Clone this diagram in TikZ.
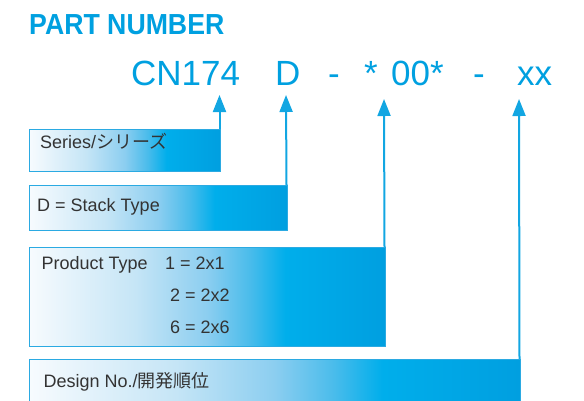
\documentclass[tikz,border=0pt]{standalone}
\usepackage{fontspec}
\setmainfont{Liberation Sans}
\newfontfamily\jpfont{Noto Sans CJK JP}
\usepackage{graphicx}
\usetikzlibrary{arrows.meta}
\definecolor{pnblue}{HTML}{00A0E0}
\definecolor{arrowblue}{HTML}{12A6E2}
\definecolor{boxline}{HTML}{2BAAE2}
\definecolor{txtgray}{HTML}{333333}
\definecolor{g0}{HTML}{F7FBFE}
\definecolor{g1}{HTML}{C5E5F6}
\definecolor{g2}{HTML}{8CCEF0}
\definecolor{g3}{HTML}{4ABCEB}
\definecolor{g4}{HTML}{00AEEB}
\definecolor{g5}{HTML}{009FE0}
\pgfdeclarehorizontalshading{partshade}{100bp}{color(0bp)=(g0); color(25bp)=(g0); color(40bp)=(g1); color(50bp)=(g2); color(56bp)=(g3); color(61bp)=(g4); color(75bp)=(g5); color(100bp)=(g5)}
\begin{document}
\begin{tikzpicture}[x=1pt,y=-1pt,
  box/.style={draw=boxline, line width=1pt, shade, shading=partshade, anchor=north west, inner sep=0pt, outer sep=0pt},
  lbl/.style={anchor=base west, inner sep=0pt, text=txtgray, font=\fontsize{18}{20}\selectfont},
  code/.style={anchor=base west, inner sep=0pt, text=pnblue, font=\fontsize{35}{40}\selectfont},
  ptr/.style={draw=arrowblue, line width=2pt, -{Triangle[width=13pt,length=17pt]}}]
\useasboundingbox (0,0) rectangle (584,400);
% title
\node[anchor=base west, inner sep=0pt, text=pnblue, font=\bfseries\fontsize{29}{32}\selectfont] (title) at (29,34.3) {\scalebox{0.92}[1]{PART NUMBER}};
% part code
\node[code] (cn) at (131,85) {CN174};
\node[code] (d) at (275,85) {D};
\node[code] (h1) at (328,85) {-};
\node[code] (st) at (364,85) {*};
\node[code] (oo) at (391,85) {00*};
\node[code] (h2) at (473,85) {-};
\node[code] (xx) at (517,85) {xx};
% boxes
\node[box, minimum width=191pt, minimum height=42pt] (b1) at (29,129) {};
\node[box, minimum width=258pt, minimum height=45pt] (b2) at (29,185) {};
\node[box, minimum width=356pt, minimum height=99pt] (b3) at (29,247) {};
\node[box, minimum width=491pt, minimum height=44pt] (b4) at (29,359) {};
% labels
\node[lbl] (l1) at (40,148) {Series/{\jpfont シリーズ}};
\node[lbl] (l2) at (37,211) {D = Stack Type};
\node[lbl] (l3) at (41.5,269) {Product Type};
\node[lbl] (l3a) at (165,269) {1 = 2x1};
\node[lbl] (l3b) at (170,301) {2 = 2x2};
\node[lbl] (l3c) at (170,333) {6 = 2x6};
\node[lbl] (l4) at (43.5,387) {Design No./{\jpfont 開発順位}};
% arrow tips
\coordinate (t1) at (219.5,95);
\coordinate (t2) at (286,95);
\coordinate (t3) at (384,99);
\coordinate (t4) at (519,99);
\draw[ptr] ([xshift=-0.5pt]b1.north east) -- (t1);
\draw[ptr] ([xshift=-0.5pt]b2.north east) -- (t2);
\draw[ptr] ([xshift=-0.5pt]b3.north east) -- (t3);
\draw[ptr] ([xshift=-0.5pt]b4.north east) -- (t4);
\end{tikzpicture}
\end{document}
